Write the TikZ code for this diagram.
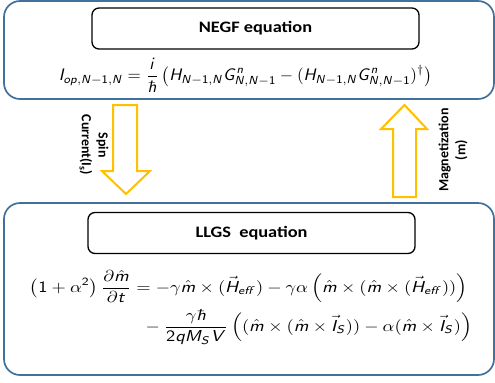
\documentclass[tikz,border=0pt]{standalone}
\usepackage[no-math]{fontspec}
\setmainfont{Carlito}
\usepackage{amsmath}
\usepackage{graphicx}
\DeclareSymbolFont{sfit}{OT1}{cmss}{m}{sl}
\DeclareSymbolFont{sfup}{OT1}{cmss}{m}{n}
\DeclareMathSymbol{I}{\mathalpha}{sfit}{`I}
\DeclareMathSymbol{o}{\mathalpha}{sfit}{`o}
\DeclareMathSymbol{p}{\mathalpha}{sfit}{`p}
\DeclareMathSymbol{N}{\mathalpha}{sfit}{`N}
\DeclareMathSymbol{H}{\mathalpha}{sfit}{`H}
\DeclareMathSymbol{G}{\mathalpha}{sfit}{`G}
\DeclareMathSymbol{n}{\mathalpha}{sfit}{`n}
\DeclareMathSymbol{i}{\mathalpha}{sfit}{`i}
\DeclareMathSymbol{t}{\mathalpha}{sfit}{`t}
\DeclareMathSymbol{e}{\mathalpha}{sfit}{`e}
\DeclareMathSymbol{f}{\mathalpha}{sfit}{`f}
\DeclareMathSymbol{q}{\mathalpha}{sfit}{`q}
\DeclareMathSymbol{M}{\mathalpha}{sfit}{`M}
\DeclareMathSymbol{S}{\mathalpha}{sfit}{`S}
\DeclareMathSymbol{V}{\mathalpha}{sfit}{`V}
\DeclareMathSymbol{h}{\mathalpha}{sfit}{`h}
\DeclareMathSymbol{m}{\mathalpha}{sfit}{`m}
\DeclareMathSymbol{1}{\mathalpha}{sfup}{`1}
\DeclareMathSymbol{2}{\mathalpha}{sfup}{`2}
\definecolor{boxblue}{HTML}{41719C}
\definecolor{arroworange}{HTML}{FFC000}
\begin{document}
\begin{tikzpicture}[x=1bp,y=-1bp,
  outerbox/.style={draw=boxblue, line width=1.7bp, rounded corners=16bp},
  innerbox/.style={draw=black, line width=1.3bp, rounded corners=7bp, inner sep=0pt, minimum width=327bp, minimum height=41bp},
  blockarrow/.style={draw=arroworange, line width=2bp, fill=white, line join=miter},
  sidelabel/.style={font=\bfseries\fontsize{14}{17}\selectfont, align=center, inner sep=0pt},
  eqnode/.style={inner sep=0pt}]
\useasboundingbox (0,0) rectangle (495,382);
% outer panels
\draw[outerbox] (4,1) rectangle (494,99);
\draw[outerbox] (4,203) rectangle (494,375);
% title boxes
\node[innerbox] (negf) at (255.5,28.5) {\scalebox{1.15}[1]{\bfseries\fontsize{16}{19}\selectfont NEGF equation}};
\node[innerbox] (llgs) at (251.5,233) {\scalebox{1.15}[1]{\bfseries\fontsize{16}{19}\selectfont LLGS\ \ equation}};
% equations
\node[eqnode] (negfeq) at (245.5,75) {\resizebox*{373bp}{34bp}{$\displaystyle I_{op,N-1,N}=\frac{i}{\hbar}\,\bigl(H_{N-1,N}G^{n}_{N,N-1}-(H_{N-1,N}G^{n}_{N,N-1})^{\dagger}\bigr)$}};
\node[eqnode] (llgseq) at (251,307.5) {\resizebox*{442bp}{75bp}{$\begin{aligned}
\bigl(1+\alpha^{2}\bigr)\,\frac{\partial\hat{m}}{\partial t}&=-\gamma\hat{m}\times(\vec{H}_{eff})-\gamma\alpha\,\Bigl(\hat{m}\times(\hat{m}\times(\vec{H}_{eff}))\Bigr)\\
&\;\;-\frac{\gamma\hbar}{2qM_{S}V}\,\Bigl((\hat{m}\times(\hat{m}\times\vec{I}_{S}))-\alpha(\hat{m}\times\vec{I}_{S})\Bigr)
\end{aligned}$}};
% block arrows
\draw[blockarrow] (113,105) -- (137,105) -- (137,171) -- (150,171) -- (126,194) -- (102,171) -- (113,171) -- cycle;
\draw[blockarrow] (393,197) -- (416,197) -- (416,129) -- (427,129) -- (404.5,105) -- (381,129) -- (393,129) -- cycle;
% labels
\node[sidelabel, rotate=-90] (spinlbl) at (94,145) {Spin\\Current(I\textsubscript{s})};
\node[sidelabel, rotate=90] (maglbl) at (453,150) {Magnetization\\(m)};
\end{tikzpicture}
\end{document}
